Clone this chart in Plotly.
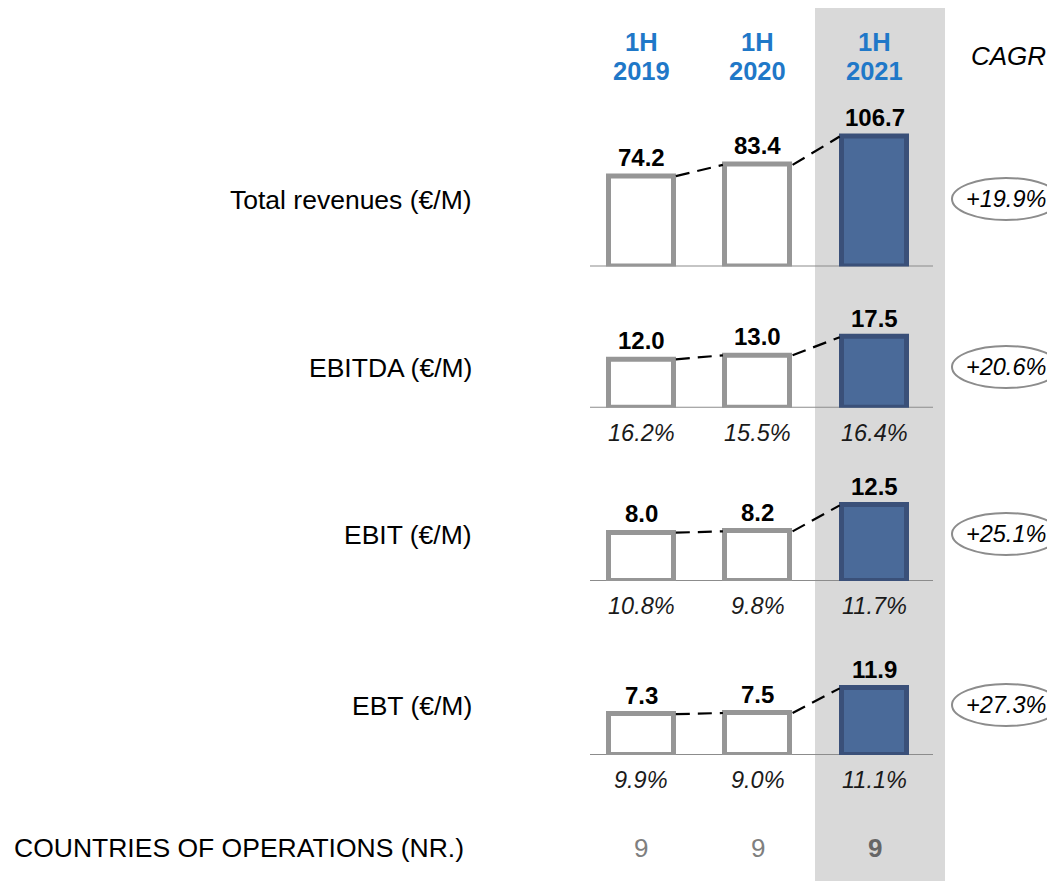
import plotly.graph_objects as go

# data
halves = ["1H", "1H", "1H"]
years = ["2019", "2020", "2021"]
metrics = ["Total revenues (€/M)", "EBITDA (€/M)", "EBIT (€/M)", "EBT (€/M)"]
revenues = [74.2, 83.4, 106.7]
ebitda = [12.0, 13.0, 17.5]
ebit = [8.0, 8.2, 12.5]
ebt = [7.3, 7.5, 11.9]
ebitda_margin = ["16.2%", "15.5%", "16.4%"]
ebit_margin = ["10.8%", "9.8%", "11.7%"]
ebt_margin = ["9.9%", "9.0%", "11.1%"]
cagr = ["+19.9%", "+20.6%", "+25.1%", "+27.3%"]
countries = [9, 9, 9]

W, H = 1055, 881
OFF = 8  # page body margin
FONT = "Arial, Liberation Sans, sans-serif"
GRAY = "#969696"
BLUE_FILL = "#4a6a99"
BLUE_LINE = "#3a5079"
HEAD_BLUE = "#1f78c8"

# layout in screen pixels
centers_px = [641, 757.5, 874.5]
step = (centers_px[2] - centers_px[0]) / 2
c0 = centers_px[0] - OFF
x_range = [-c0 / step, -c0 / step + W / step]
bar_w = 65 / step

# (baseline px, px per unit, label y px, values, margins)
panels = [
    (266.5, 1.218, 200, revenues, None),
    (407.7, 4.03, 368, ebitda, ebitda_margin),
    (581.0, 6.05, 535, ebit, ebit_margin),
    (755.0, 5.6, 706, ebt, ebt_margin),
]
PANEL_H = 140


def px_(x):
    return (x - OFF) / W


def py(y):
    return 1 - (y - OFF) / H


def xd(x):
    return (x - centers_px[0]) / step


fig = go.Figure()
shapes = [dict(type="rect", xref="paper", yref="paper",
               x0=px_(815), x1=px_(945), y0=py(900), y1=py(0),
               fillcolor="#d9d9d9", line_width=0, layer="below")]
annotations = []
layout_axes = {}

for k, (base, scale, ly, vals, margins) in enumerate(panels):
    yname = "y" if k == 0 else f"y{k + 1}"
    axkey = "yaxis" if k == 0 else f"yaxis{k + 1}"
    layout_axes[axkey] = dict(domain=[py(base), py(base - PANEL_H)],
                              range=[0, PANEL_H / scale], visible=False,
                              fixedrange=True, anchor="x")
    fig.add_trace(go.Bar(
        x=[0, 1, 2], y=vals, yaxis=yname, width=bar_w,
        marker=dict(color=["white", "white", BLUE_FILL],
                    line=dict(color=[GRAY, GRAY, BLUE_LINE], width=5)),
        showlegend=False, hoverinfo="skip"))
    # dashed connectors between bar tops
    for i in range(2):
        fig.add_trace(go.Scatter(
            x=[i + bar_w / 2 + 0.02, i + 1 - bar_w / 2 - 0.02],
            y=[vals[i], vals[i + 1]], yaxis=yname, mode="lines",
            line=dict(color="black", width=2.2, dash="14px,8px"),
            showlegend=False, hoverinfo="skip", cliponaxis=False))
    shapes.append(dict(type="line", xref="x", yref=yname,
                       x0=xd(590), x1=xd(933), y0=0, y1=0,
                       line=dict(color="#8c8c8c", width=2), layer="below"))
    for i, v in enumerate(vals):
        annotations.append(dict(x=i, y=v, xref="x", yref=yname, text=f"<b>{v:.1f}</b>",
                                showarrow=False, xanchor="center", yanchor="middle", yshift=19,
                                font=dict(family=FONT, size=24, color="black")))
        if margins:
            annotations.append(dict(x=i, y=0, xref="x", yref=yname, text=f"<i>{margins[i]}</i>",
                                    showarrow=False, xanchor="center", yanchor="middle", yshift=-25,
                                    font=dict(family=FONT, size=23.5, color="#1a1a1a")))
    annotations.append(dict(x=px_(474), y=py(ly), xref="paper", yref="paper",
                            text=metrics[k], showarrow=False, xanchor="right", yanchor="middle",
                            font=dict(family=FONT, size=26.5, color="black")))
    cy = ly - 1
    shapes.append(dict(type="circle", xref="paper", yref="paper",
                       x0=px_(952), x1=px_(1060), y0=py(cy + 21), y1=py(cy - 21),
                       line=dict(color="#8c8c8c", width=2), fillcolor="white"))
    annotations.append(dict(x=px_(1006), y=py(cy), xref="paper", yref="paper",
                            text=f"<i>{cagr[k]}</i>", showarrow=False,
                            xanchor="center", yanchor="middle",
                            font=dict(family=FONT, size=23.5, color="black")))

# period headers
for i in range(3):
    for txt, yy in ((halves[i], 42.5), (years[i], 71.5)):
        annotations.append(dict(x=i, y=py(yy), xref="x", yref="paper", text=f"<b>{txt}</b>",
                                showarrow=False, xanchor="center", yanchor="middle",
                                font=dict(family=FONT, size=25.5, color=HEAD_BLUE)))
annotations.append(dict(x=px_(1008), y=py(56), xref="paper", yref="paper",
                        text="<i>CAGR</i>", showarrow=False, xanchor="center", yanchor="middle",
                        font=dict(family=FONT, size=26, color="black")))

# countries row
annotations.append(dict(x=px_(12), y=py(848), xref="paper", yref="paper",
                        text="COUNTRIES OF OPERATIONS (NR.)", showarrow=False,
                        xanchor="left", yanchor="middle",
                        font=dict(family=FONT, size=26.5, color="black")))
for i, c in enumerate(countries):
    annotations.append(dict(x=i, y=py(848), xref="x", yref="paper",
                            text=f"<b>{c}</b>" if i == 2 else str(c), showarrow=False,
                            xanchor="center", yanchor="middle",
                            font=dict(family=FONT, size=26,
                                      color="#666666" if i == 2 else "#7f7f7f")))

fig.update_layout(
    width=W, height=H, margin=dict(l=0, r=0, t=0, b=0),
    paper_bgcolor="white", plot_bgcolor="rgba(0,0,0,0)",
    xaxis=dict(range=x_range, visible=False, fixedrange=True),
    shapes=shapes, annotations=annotations, bargap=0,
    **layout_axes)

fig.write_html("out.html")
